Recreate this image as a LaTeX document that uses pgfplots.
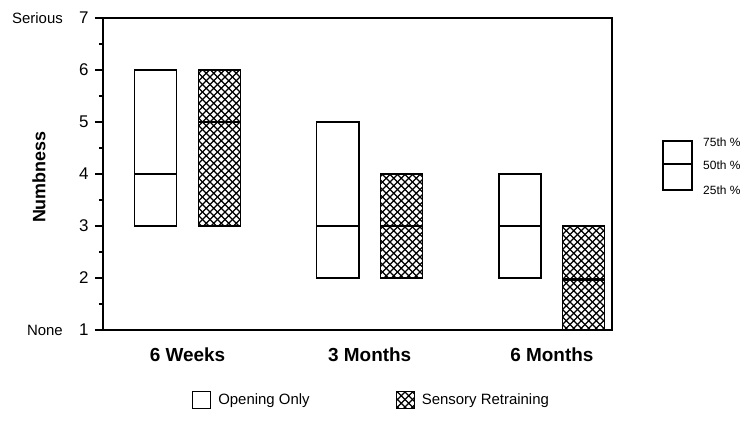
\documentclass[border=0pt]{standalone}
\usepackage{fontspec}
\setmainfont{Liberation Sans}
\usepackage{pgfplots}
\pgfplotsset{compat=1.18}
\usepgfplotslibrary{statistics}
\usetikzlibrary{patterns}
\pgfdeclarepatternformonly{diagcross}{\pgfqpoint{-1bp}{-1bp}}{\pgfqpoint{8.5bp}{8.5bp}}{\pgfqpoint{7.5bp}{7.5bp}}{%
  \pgfsetlinewidth{1.25bp}%
  \pgfpathmoveto{\pgfqpoint{0bp}{0bp}}\pgfpathlineto{\pgfqpoint{7.5bp}{7.5bp}}%
  \pgfpathmoveto{\pgfqpoint{0bp}{7.5bp}}\pgfpathlineto{\pgfqpoint{7.5bp}{0bp}}%
  \pgfusepath{stroke}}
\pgfplotsset{
  openbox/.style={draw=black, line width=1.3bp, fill=white, solid, mark=none, forget plot,
    boxplot/draw direction=y,
    boxplot/box extend=0.231, boxplot/whisker extend=0},
  hatchbox/.style={draw=black, line width=1.3bp, pattern=diagcross, solid, mark=none, forget plot,
    boxplot/draw direction=y,
    boxplot/box extend=0.231, boxplot/whisker extend=0},
  medline/.style={draw=black, line width=2.6bp, mark=none, forget plot},
}
\begin{document}
\begin{tikzpicture}
\useasboundingbox[fill=white] (-103bp,-92bp) rectangle (647bp,330bp);
\begin{axis}[
  at={(0,0)}, anchor=south west,
  scale only axis, width=509bp, height=312bp,
  xmin=-0.464, xmax=2.33, ymin=1, ymax=7,
  xtick={0,1,2}, xticklabels={6 Weeks,3 Months,6 Months},
  major x tick style={draw=none},
  x tick label style={font=\fontsize{19}{22}\selectfont\bfseries, yshift=-6bp},
  ytick={1,2,3,4,5,6,7}, minor y tick num=1,
  tick align=outside, ytick pos=left,
  major tick length=8bp, minor tick length=4bp,
  every tick/.style={black, line width=1.2bp},
  axis line style={line width=1.3bp},
  y tick label style={font=\fontsize{17}{20}\selectfont, xshift=-3bp},
  /pgf/number format/assume math mode=true,
  ylabel={Numbness},
  ylabel style={font=\fontsize{18}{20}\selectfont\bfseries, at={(axis description cs:-0.126,0.49)}, anchor=center},
  clip=false,
  legend style={at={(axis description cs:0.5275,-0.224)}, anchor=center, draw=none, fill=none,
    font=\fontsize{15}{18}\selectfont, legend columns=2,
    /tikz/every odd column/.append style={column sep=5bp},
    /tikz/every even column/.append style={column sep=84bp}},
]
% 6 Weeks
\addplot[openbox, boxplot prepared={draw position=-0.175, lower whisker=3, lower quartile=3, median=4, upper quartile=6, upper whisker=6}] coordinates {};
\addplot[hatchbox, boxplot prepared={draw position=0.175, lower whisker=3, lower quartile=3, median=5, upper quartile=6, upper whisker=6}] coordinates {};
% 3 Months
\addplot[openbox, boxplot prepared={draw position=0.825, lower whisker=2, lower quartile=2, median=3, upper quartile=5, upper whisker=5}] coordinates {};
\addplot[hatchbox, boxplot prepared={draw position=1.175, lower whisker=2, lower quartile=2, median=3, upper quartile=4, upper whisker=4}] coordinates {};
% 6 Months
\addplot[openbox, boxplot prepared={draw position=1.825, lower whisker=2, lower quartile=2, median=3, upper quartile=4, upper whisker=4}] coordinates {};
\addplot[hatchbox, boxplot prepared={draw position=2.175, lower whisker=1, lower quartile=1, median=1.97, upper quartile=3, upper whisker=3}] coordinates {};
% medians (50th percentile)
\addplot[medline] coordinates {(-0.2905,4) (-0.0595,4)};
\addplot[medline] coordinates {(0.0595,5) (0.2905,5)};
\addplot[medline] coordinates {(0.7095,3) (0.9405,3)};
\addplot[medline] coordinates {(1.0595,3) (1.2905,3)};
\addplot[medline] coordinates {(1.7095,3) (1.9405,3)};
\addplot[medline] coordinates {(2.0595,1.97) (2.2905,1.97)};
\addlegendimage{legend image code/.code={\draw[black,line width=1.2bp,fill=white] (0bp,-8.5bp) rectangle (18bp,8.5bp);}}
\addlegendentry{Opening Only}
\addlegendimage{legend image code/.code={\draw[black,line width=1.2bp,pattern=diagcross] (0bp,-8.5bp) rectangle (18bp,8.5bp);}}
\addlegendentry{Sensory Retraining}
\end{axis}
\node[anchor=east, font=\fontsize{15}{18}\selectfont, inner sep=0pt] at (-40bp,312bp) {Serious};
\node[anchor=east, font=\fontsize{15}{18}\selectfont, inner sep=0pt] at (-40bp,0bp) {None};
% percentile key
\draw[line width=1.3bp] (560bp,140bp) rectangle (589bp,189bp);
\draw[line width=2.4bp] (560bp,166bp) -- (589bp,166bp);
\node[anchor=west, font=\fontsize{12}{14}\selectfont, inner sep=0pt] at (600bp,188bp) {75th \%};
\node[anchor=west, font=\fontsize{12}{14}\selectfont, inner sep=0pt] at (600bp,165bp) {50th \%};
\node[anchor=west, font=\fontsize{12}{14}\selectfont, inner sep=0pt] at (600bp,140bp) {25th \%};
\end{tikzpicture}
\end{document}
